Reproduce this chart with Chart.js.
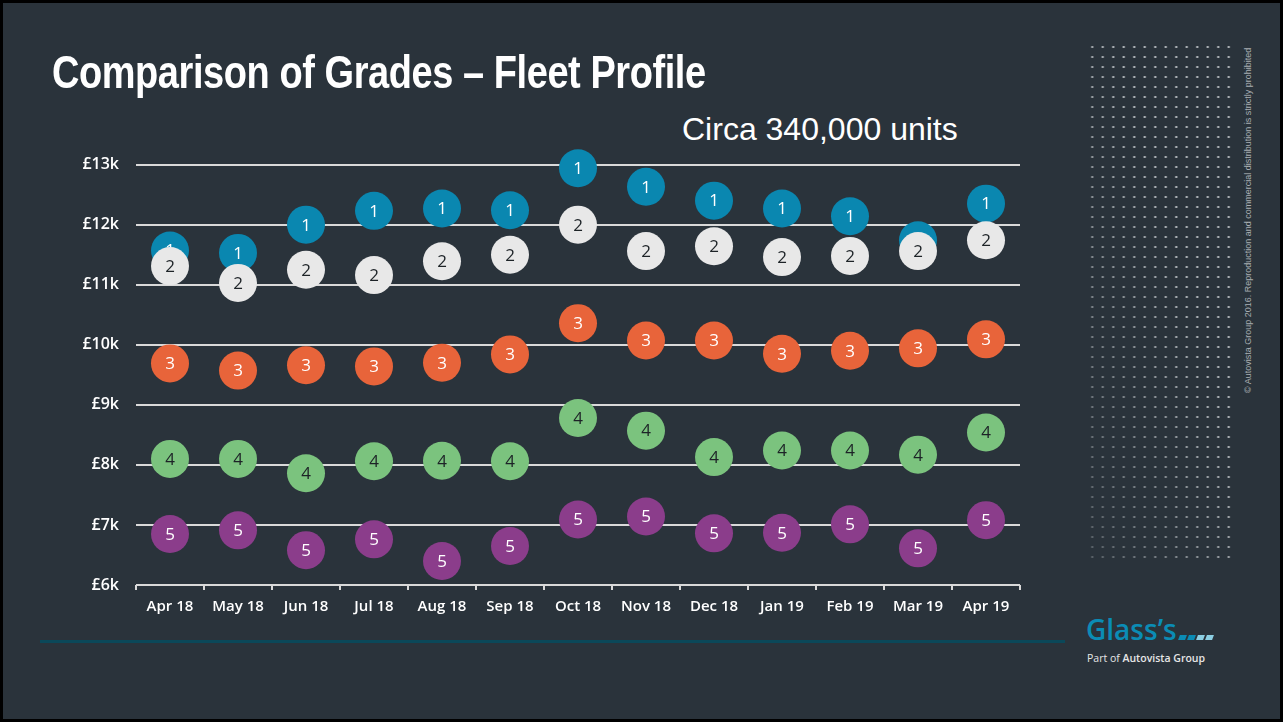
<!DOCTYPE html>
<html>
<head>
<meta charset="utf-8">
<script src="https://cdn.jsdelivr.net/npm/chart.js@4"></script>
<style>
  html, body { margin: 0; padding: 0; background: #000; }
  #slide {
    position: absolute; left: 3px; top: 3px; width: 1277px; height: 716px;
    background: #2a333b; overflow: hidden;
  }
  #title {
    position: absolute; left: 49px; top: 46px; line-height: 1;
    font-family: "Liberation Sans", Arial, sans-serif; font-weight: bold;
    font-size: 46px; letter-spacing: -0.5px; color: #fff; white-space: nowrap;
    transform-origin: 0 0; transform: scaleX(0.825);
  }
  #subtitle {
    position: absolute; left: 679px; top: 110px; line-height: 1;
    font-family: "Liberation Sans", Arial, sans-serif;
    font-size: 32px; color: #fff; white-space: nowrap;
  }
  #chartBox { position: absolute; left: 37px; top: 135px; width: 1000px; height: 487px; }
  #dots {
    position: absolute; left: 1084px; top: 39px; width: 147px; height: 516px;
    background-image: radial-gradient(circle, #b9bec2 0.9px, transparent 1.3px);
    background-size: 10.5px 10px;
    -webkit-mask-image: linear-gradient(to top right, rgba(0,0,0,0.35), #000 60%);
    mask-image: linear-gradient(to top right, rgba(0,0,0,0.35), #000 60%);
  }
  #legal {
    position: absolute; left: 1240px; top: 390px; transform-origin: 0 0; transform: rotate(-90deg);
    font-family: "Liberation Sans", Arial, sans-serif; font-size: 9px; color: #a9aeb2; white-space: nowrap;
  }
  #rule { position: absolute; left: 37px; top: 637px; width: 1025px; height: 3px; background: #0b4859; }
  #logo {
    position: absolute; left: 1083px; top: 612px; line-height: 1;
    font-family: "Open Sans", sans-serif; font-size: 28px; font-weight: 600; color: #0b8cb5; letter-spacing: 0px;
  }
  #logo span.d {
    display: inline-block; width: 7px; height: 5px; margin-left: 2px; background: #0b8cb5;
    transform: skewX(-20deg);
  }
  #logo span.d.l { background: #8ccfe3; }
  #part {
    position: absolute; left: 1084px; top: 648px;
    font-family: "Open Sans", sans-serif; font-size: 10.5px; color: #e6e6e6;
  }
  #part b { font-weight: 600; }
</style>
</head>
<body>
<div id="slide">
  <div id="title">Comparison of Grades – Fleet Profile</div>
  <div id="subtitle">Circa 340,000 units</div>
  <div id="chartBox"><canvas id="chart"></canvas></div>
  <div id="dots"></div>
  <div id="legal">© Autovista  Group 2016. Reproduction and commercial distribution is strictly prohibited</div>
  <div id="rule"></div>
  <div id="logo">Glass’s<span class="d"></span><span class="d"></span><span class="d l"></span><span class="d l"></span></div>
  <div id="part">Part of <b>Autovista Group</b></div>
</div>
<script>
const months = ['Apr 18', 'May 18', 'Jun 18', 'Jul 18', 'Aug 18', 'Sep 18', 'Oct 18',
                'Nov 18', 'Dec 18', 'Jan 19', 'Feb 19', 'Mar 19', 'Apr 19'];

// average values in £
const grade1 = [11570, 11530, 12000, 12230, 12270, 12240, 12940, 12630, 12400, 12270, 12140, 11740, 12350];
const grade2 = [11310, 11030, 11250, 11160, 11390, 11500, 12000, 11560, 11640, 11460, 11480, 11560, 11740];
const grade3 = [9690, 9570, 9660, 9640, 9700, 9840, 10360, 10070, 10070, 9850, 9900, 9940, 10090];
const grade4 = [8100, 8100, 7860, 8060, 8070, 8060, 8780, 8570, 8130, 8240, 8240, 8170, 8540];
const grade5 = [6850, 6910, 6580, 6760, 6400, 6650, 7090, 7140, 6860, 6870, 7010, 6610, 7080];

const yTicks = [6000, 7000, 8000, 9000, 10000, 11000, 12000, 13000];

const grades = [
    { label: '1', data: grade1, color: '#0a87b0', text: '#ffffff', order: 5 },
    { label: '2', data: grade2, color: '#e8e8e8', text: '#1d2327', order: 4 },
    { label: '3', data: grade3, color: '#e8643a', text: '#ffffff', order: 3 },
    { label: '4', data: grade4, color: '#7bc37e', text: '#1d2327', order: 2 },
    { label: '5', data: grade5, color: '#8b3d8b', text: '#ffffff', order: 1 }
];

// write the grade number inside each circle, right after that grade's circles are drawn
const circleLabels = {
    id: 'circleLabels',
    afterDatasetDraw(chart, args) {
        const ds = chart.data.datasets[args.index];
        const ctx = chart.ctx;
        ctx.save();
        ctx.font = '17px "Open Sans", sans-serif';
        ctx.fillStyle = ds.textColor;
        ctx.textAlign = 'center';
        ctx.textBaseline = 'middle';
        args.meta.data.forEach(pt => ctx.fillText(ds.label, pt.x, pt.y + 1));
        ctx.restore();
    }
};

new Chart(document.getElementById('chart'), {
    type: 'line',
    data: {
        labels: months,
        datasets: grades.map(g => ({
            label: g.label,
            data: g.data,
            showLine: false,
            pointRadius: 19,
            pointHoverRadius: 19,
            pointBorderWidth: 0,
            pointBackgroundColor: g.color,
            backgroundColor: g.color,
            textColor: g.text,
            order: g.order,
            clip: false
        }))
    },
    options: {
        responsive: true,
        maintainAspectRatio: false,
        animation: false,
        layout: { padding: { top: 20, right: 20, bottom: 0, left: 0 } },
        plugins: { legend: { display: false }, tooltip: { enabled: false } },
        scales: {
            x: {
                offset: true,
                afterFit(scale) { scale.height = 40; },
                grid: {
                    offset: true,
                    drawOnChartArea: false,
                    drawTicks: true,
                    tickLength: 5,
                    color: '#d9d9d9',
                    lineWidth: 2
                },
                border: { display: false },
                ticks: {
                    color: '#ffffff',
                    padding: 8,
                    maxRotation: 0,
                    font: { family: '"Open Sans", sans-serif', size: 15, weight: '600' }
                }
            },
            y: {
                min: 6000,
                max: 13000,
                afterFit(scale) { scale.width = 96; },
                afterBuildTicks(scale) { scale.ticks = yTicks.map(v => ({ value: v })); },
                grid: { color: '#d9d9d9', lineWidth: 2, drawTicks: false },
                border: { display: false },
                ticks: {
                    color: '#ffffff',
                    padding: 17,
                    callback: v => '£' + (v / 1000) + 'k',
                    font: { family: '"Open Sans", sans-serif', size: 16, weight: '600' }
                }
            }
        }
    },
    plugins: [circleLabels]
});
</script>
</body>
</html>
